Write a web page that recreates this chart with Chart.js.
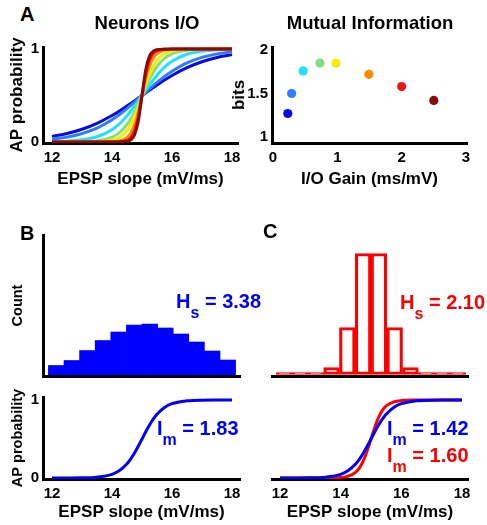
<!DOCTYPE html>
<html><head><meta charset="utf-8">
<script src="https://cdn.jsdelivr.net/npm/chart.js@4.4.1/dist/chart.umd.min.js"></script>
<style>
html,body{margin:0;padding:0;background:#fff;}
body{width:487px;height:525px;position:relative;overflow:hidden;font-family:'Liberation Sans',Arial,sans-serif;}
canvas{position:absolute;}
.t{position:absolute;font-weight:bold;line-height:1;white-space:nowrap;z-index:5;color:#000;}
.sub{font-size:16px;position:relative;top:10px;}
</style></head><body>
<canvas id="cA1"></canvas>
<canvas id="cA2"></canvas>
<canvas id="cB1"></canvas>
<canvas id="cB2"></canvas>
<canvas id="cC1"></canvas>
<canvas id="cC2"></canvas>
<div class="t" style="left:20px;top:4px;font-size:20px;">A</div>
<div class="t" style="left:47px;top:14px;width:200px;text-align:center;font-size:18.5px;">Neurons I/O</div>
<div class="t" style="left:270px;top:14px;width:200px;text-align:center;font-size:18.5px;">Mutual Information</div>
<div class="t" style="left:20px;top:223px;font-size:20px;">B</div>
<div class="t" style="left:263px;top:221px;font-size:20px;">C</div>
<div class="t" style="left:176px;top:291px;font-size:20px;color:#0000ff;">H<span class="sub">s</span> = 3.38</div>
<div class="t" style="left:400px;top:292px;font-size:20px;color:#ff0000;">H<span class="sub">s</span> = 2.10</div>
<div class="t" style="left:157px;top:418px;font-size:20px;color:#0000ff;">I<span class="sub">m</span> = 1.83</div>
<div class="t" style="left:387px;top:418px;font-size:20px;color:#0000ff;">I<span class="sub">m</span> = 1.42</div>
<div class="t" style="left:387px;top:445px;font-size:20px;color:#ff0000;">I<span class="sub">m</span> = 1.60</div>
<script>
// ---------------- data ----------------
const slopeX = [12, 12.5, 13, 13.5, 14, 14.25, 14.5, 14.625, 14.75, 14.875, 15, 15.125, 15.25, 15.375, 15.5, 15.75, 16, 16.5, 17, 17.5, 18];
const apGain023 = [0.060, 0.091, 0.137, 0.201, 0.285, 0.334, 0.387, 0.415, 0.443, 0.471, 0.5, 0.529, 0.557, 0.585, 0.613, 0.666, 0.715, 0.799, 0.863, 0.909, 0.940];
const apGain029 = [0.030, 0.052, 0.090, 0.149, 0.239, 0.295, 0.359, 0.393, 0.428, 0.464, 0.5, 0.536, 0.572, 0.607, 0.641, 0.705, 0.761, 0.851, 0.910, 0.948, 0.970];
const apGain047 = [0.004, 0.009, 0.023, 0.056, 0.132, 0.196, 0.281, 0.331, 0.385, 0.442, 0.5, 0.558, 0.615, 0.669, 0.719, 0.804, 0.868, 0.944, 0.977, 0.991, 0.996];
const apGain073 = [0.000, 0.001, 0.003, 0.012, 0.051, 0.101, 0.188, 0.251, 0.325, 0.410, 0.5, 0.590, 0.675, 0.749, 0.812, 0.899, 0.949, 0.988, 0.997, 0.999, 1.000];
const apGain098 = [0, 0, 0, 0.003, 0.019, 0.050, 0.123, 0.187, 0.273, 0.380, 0.5, 0.620, 0.727, 0.813, 0.877, 0.950, 0.981, 0.997, 1, 1, 1];
const apGain149 = [0, 0, 0, 0, 0.003, 0.011, 0.048, 0.097, 0.184, 0.322, 0.5, 0.678, 0.816, 0.903, 0.952, 0.989, 0.997, 1, 1, 1, 1];
const apGain200 = [0, 0, 0, 0, 0, 0.002, 0.018, 0.047, 0.119, 0.269, 0.5, 0.731, 0.881, 0.953, 0.982, 0.998, 1, 1, 1, 1, 1];
const apGain250 = [0, 0, 0, 0, 0, 0.001, 0.007, 0.023, 0.076, 0.223, 0.5, 0.777, 0.924, 0.977, 0.993, 0.999, 1, 1, 1, 1, 1];
const ioCurves = [apGain023, apGain029, apGain047, apGain073, apGain098, apGain149, apGain200, apGain250];
const jetColors = ['#0a0ae6', '#2a7fff', '#1ee0ff', '#80e080', '#f5ee00', '#ff8a00', '#f01414', '#8c0a0a'];

const ioGain = [0.23, 0.29, 0.47, 0.73, 0.98, 1.49, 2.0, 2.5];
const mutualInfoBits = [1.27, 1.50, 1.76, 1.85, 1.85, 1.72, 1.58, 1.42];

const binCenters = [12.14, 12.66, 13.18, 13.70, 14.22, 14.74, 15.26, 15.78, 16.30, 16.82, 17.34, 17.86];
const countWide = [10.5, 15.5, 25.5, 35.5, 44, 51, 52, 48, 42, 34, 25, 16];
const countNarrow = [2, 2, 2, 7, 47, 121, 121, 47, 7, 2, 2, 2];

const apProbNeuron = [0.000, 0.001, 0.002, 0.011, 0.047, 0.095, 0.182, 0.245, 0.321, 0.407, 0.5, 0.593, 0.679, 0.755, 0.818, 0.905, 0.953, 0.989, 0.998, 0.999, 1.000];
const apProbSteep = [0, 0, 0, 0.001, 0.007, 0.023, 0.076, 0.133, 0.223, 0.349, 0.5, 0.651, 0.777, 0.867, 0.924, 0.977, 0.993, 0.999, 1, 1, 1];

const slopeTicks = [12, 14, 16, 18];
const gainTicks = [0, 1, 2, 3];
const bitsTicks = [1, 1.5, 2];
const probTicks = [0, 1];

// ---------------- helpers ----------------
Chart.defaults.font.family = "'Liberation Sans', Arial, sans-serif";
Chart.defaults.color = '#000';
Chart.defaults.animation = false;
Chart.defaults.plugins.legend.display = false;
Chart.defaults.plugins.tooltip.enabled = false;

const tickFont = {size: 15, weight: 'bold'};

function scale(min, max, tickVals, title, titleSize, titlePad, isX, borderZ) {
  const s = {
    type: 'linear', min: min, max: max, offset: false,
    grid: {display: false, drawTicks: false},
    border: {display: true, color: '#000', width: 3, z: borderZ || 0},
    ticks: tickVals ? {display: true, padding: isX ? 6 : 4, autoSkip: false, maxRotation: 0, font: tickFont, callback: v => String(v)} : {display: false},
    title: title ? {display: true, text: title, font: {size: titleSize, weight: 'bold'},
      padding: isX ? {top: 0, bottom: titlePad} : {top: titlePad, bottom: 0}} : {display: false}
  };
  if (tickVals) s.afterBuildTicks = sc => { sc.ticks = tickVals.map(v => ({value: v})); };
  return s;
}

function build(id, box, area, cfg) {
  const cv = document.getElementById(id);
  cv.width = box.w; cv.height = box.h;
  cv.style.left = box.l + 'px'; cv.style.top = box.t + 'px';
  cv.style.width = box.w + 'px'; cv.style.height = box.h + 'px';
  const yShown = cfg.options.scales.y.display !== false;
  cfg.options.responsive = false;
  cfg.options.maintainAspectRatio = false;
  cfg.options.layout = {padding: {left: yShown ? 0 : area.l - box.l, top: area.t - box.t, right: box.l + box.w - area.r, bottom: 0}};
  cfg.options.scales.x.afterFit = s => { s.height = box.t + box.h - area.b; };
  if (yShown) cfg.options.scales.y.afterFit = s => { s.width = area.l - box.l; };
  return new Chart(cv.getContext('2d'), cfg);
}

function curve(ys, color, order) {
  return {type: 'line', data: slopeX.map((x, i) => ({x: x, y: ys[i]})), borderColor: color, backgroundColor: color,
    borderWidth: 3, pointRadius: 0, cubicInterpolationMode: 'monotone', fill: false, order: order};
}

// ---------------- A left: Neurons I/O ----------------
build('cA1', {l: 0, t: 30, w: 252, h: 170}, {l: 43, t: 47, r: 238, b: 143}, {
  type: 'line',
  data: {datasets: ioCurves.map((c, i) => curve(c, jetColors[i], ioCurves.length - i))},
  options: {scales: {
    x: scale(11.7, 18.2, slopeTicks, 'EPSP slope (mV/ms)', 17, 10.8, true),
    y: scale(-0.011, 1.022, probTicks, 'AP probability', 17, 7.5, false)
  }}
});

// ---------------- A right: Mutual Information ----------------
build('cA2', {l: 226, t: 30, w: 261, h: 170}, {l: 272, t: 47, r: 467, b: 143}, {
  type: 'scatter',
  data: {datasets: [{data: ioGain.map((g, i) => ({x: g, y: mutualInfoBits[i]})),
    pointRadius: 4.6, pointBackgroundColor: jetColors, pointBorderWidth: 0, showLine: false}]},
  options: {scales: {
    x: scale(-0.0155, 3.0155, gainTicks, 'I/O Gain (ms/mV)', 17, 10.8, true),
    y: scale(0.931, 2.0345, bitsTicks, 'bits', 17, 2.8, false)
  }}
});

// ---------------- B top: wide histogram ----------------
build('cB1', {l: 0, t: 215, w: 252, h: 170}, {l: 43, t: 235, r: 240, b: 376}, {
  type: 'bar',
  data: {datasets: [{data: binCenters.map((x, i) => ({x: x, y: countWide[i]})), backgroundColor: '#0000ff',
    borderWidth: 0, barPercentage: 1, categoryPercentage: 1}]},
  options: {scales: {
    x: scale(11.7, 18.2667, null, null, 0, 0, true, 1),
    y: scale(0, 141, null, 'Count', 14.5, 9, false, 1)
  }}
});

// ---------------- B bottom ----------------
build('cB2', {l: 0, t: 380, w: 252, h: 145}, {l: 43, t: 397, r: 240, b: 479}, {
  type: 'line',
  data: {datasets: [curve(apProbNeuron, '#0000ff', 0)]},
  options: {scales: {
    x: scale(11.7, 18.2667, slopeTicks, 'EPSP slope (mV/ms)', 17, 2.8, true),
    y: scale(-0.0128, 1.0385, probTicks, 'AP probability', 14.5, 9.3, false)
  }}
});

// ---------------- C top: narrow histogram ----------------
const yHidden1 = {type: 'linear', display: false, min: -1.5, max: 139.5};
build('cC1', {l: 250, t: 215, w: 237, h: 170}, {l: 272, t: 235, r: 468, b: 376}, {
  type: 'bar',
  data: {datasets: [{data: binCenters.map((x, i) => ({x: x, y: countNarrow[i]})), backgroundColor: 'rgba(0,0,0,0)',
    borderColor: '#ff0000', borderWidth: 2.5, borderSkipped: false, barPercentage: 1, categoryPercentage: 1}]},
  options: {scales: {
    x: scale(11.736, 18.198, null, null, 0, 0, true),
    y: yHidden1
  }}
});

// ---------------- C bottom ----------------
const yHidden2 = {type: 'linear', display: false, min: -0.0128, max: 1.0385};
build('cC2', {l: 250, t: 380, w: 237, h: 145}, {l: 272, t: 397, r: 468, b: 479}, {
  type: 'line',
  data: {datasets: [curve(apProbNeuron, '#0000ff', 0), curve(apProbSteep, '#ff0000', 1)]},
  options: {scales: {
    x: scale(11.736, 18.198, slopeTicks, 'EPSP slope (mV/ms)', 17, 2.8, true),
    y: yHidden2
  }}
});
</script>
</body></html>
